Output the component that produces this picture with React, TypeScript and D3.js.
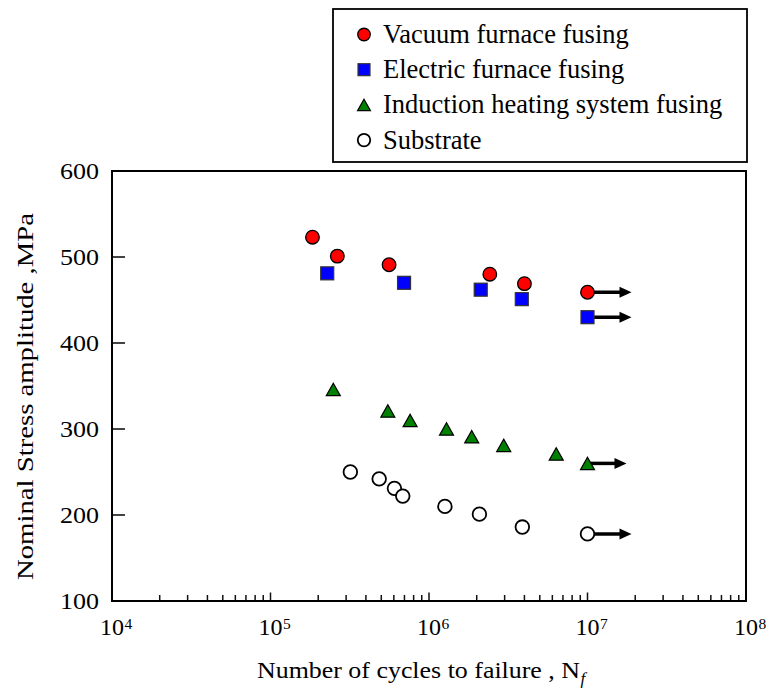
import React from "react";
import * as d3 from "d3";

// ---- Data ----
const vacuumN = [1.84e5, 2.64e5, 5.6e5, 2.42e6, 4.0e6, 1.0e7];
const vacuumS = [523, 501, 491, 480, 469, 459];
const vacuumRunout = [false, false, false, false, false, true];

const electricN = [2.28e5, 6.96e5, 2.12e6, 3.85e6, 1.0e7];
const electricS = [481, 470, 462, 451, 430];
const electricRunout = [false, false, false, false, true];

const inductionN = [2.49e5, 5.5e5, 7.6e5, 1.29e6, 1.86e6, 2.96e6, 6.35e6, 1.0e7];
const inductionS = [346, 321, 310, 300, 291, 281, 271, 260];
const inductionRunout = [false, false, false, false, false, false, false, true];

const substrateN = [3.19e5, 4.85e5, 6.05e5, 6.83e5, 1.26e6, 2.08e6, 3.88e6, 1.0e7];
const substrateS = [250, 242, 231, 222, 210, 201, 186, 178];
const substrateRunout = [false, false, false, false, false, false, false, true];

const seriesNames = [
  "Vacuum furnace fusing",
  "Electric furnace fusing",
  "Induction heating system fusing",
  "Substrate",
];
const xDecades = [4, 5, 6, 7, 8];
const yTicks = [100, 200, 300, 400, 500, 600];

// ---- Layout ----
const W = 773;
const H = 697;
const L = 112, R = 746, T = 171, B = 601;
const FONT = "'Liberation Serif', 'Times New Roman', serif";

type Shape = "circle" | "square" | "triangle";

function Marker({ shape, x, y, fill, s = 1 }: { shape: Shape; x: number; y: number; fill: string; s?: number }) {
  const stroke = "#000";
  if (shape === "circle") {
    return <circle cx={x} cy={y} r={6.8 * s} fill={fill} stroke={stroke} strokeWidth={fill === "#fff" ? 1.8 : 1.3} />;
  }
  if (shape === "square") {
    const h = 6.5 * s;
    return <rect x={x - h} y={y - h} width={2 * h} height={2 * h} fill={fill} stroke="#333" strokeWidth={1.2} />;
  }
  const hw = 7 * s, hh = 6.2 * s;
  return (
    <path
      d={`M${x},${y - hh}L${x + hw},${y + hh}L${x - hw},${y + hh}Z`}
      fill={fill}
      stroke={stroke}
      strokeWidth={1.2}
      strokeLinejoin="miter"
    />
  );
}

export default function App() {
  const x = d3.scaleLog().domain([1e4, 1e8]).range([L, R]);
  const y = d3.scaleLinear().domain([100, 600]).range([B, T]);

  const series = [
    { name: seriesNames[0], N: vacuumN, S: vacuumS, run: vacuumRunout, shape: "circle" as Shape, fill: "#ff0000", arrow: 44 },
    { name: seriesNames[1], N: electricN, S: electricS, run: electricRunout, shape: "square" as Shape, fill: "#0000ff", arrow: 44 },
    { name: seriesNames[2], N: inductionN, S: inductionS, run: inductionRunout, shape: "triangle" as Shape, fill: "#008000", arrow: 39 },
    { name: seriesNames[3], N: substrateN, S: substrateS, run: substrateRunout, shape: "circle" as Shape, fill: "#fff", arrow: 44 },
  ];

  const minorTicks: number[] = [];
  for (let d = 4; d < 8; d++) {
    for (let k = 2; k <= 9; k++) minorTicks.push(k * Math.pow(10, d));
  }

  return (
    <svg
      width={W}
      height={H}
      style={{ position: "absolute", left: 0, top: 0, background: "#fff" }}
      fontFamily={FONT}
    >
      <rect x={0} y={0} width={W} height={H} fill="#fff" />

      {/* y ticks */}
      {yTicks.filter((t) => t > 100 && t < 600).map((t) => (
        <line key={"yt" + t} x1={L} x2={L + 13} y1={y(t)} y2={y(t)} stroke="#444" strokeWidth={2} />
      ))}
      {/* x minor ticks */}
      {minorTicks.map((t, i) => (
        <line key={"xm" + i} x1={x(t)} x2={x(t)} y1={B} y2={B - 6} stroke="#111" strokeWidth={1.5} />
      ))}
      {xDecades.filter((d) => d > 4 && d < 8).map((d) => (
        <line key={"xM" + d} x1={x(Math.pow(10, d))} x2={x(Math.pow(10, d))} y1={B} y2={B - 8.5} stroke="#111" strokeWidth={1.5} />
      ))}

      {/* frame */}
      <rect x={L} y={T} width={R - L} height={B - T} fill="none" stroke="#000" strokeWidth={2} />

      {/* y tick labels */}
      {yTicks.map((t) => (
        <text
          key={"yl" + t}
          x={99}
          y={y(t) + 7.5}
          textAnchor="end"
          fontSize={23}
          textLength={39}
          lengthAdjust="spacingAndGlyphs"
          fill="#000"
        >
          {t}
        </text>
      ))}

      {/* x tick labels */}
      {xDecades.map((d) => {
        const px = x(Math.pow(10, d));
        return (
          <g key={"xl" + d}>
            <text x={px} y={635} textAnchor="middle" fontSize={24} fill="#000">10</text>
            <text x={px + 12.5} y={629} fontSize={15.5} fill="#000">{d}</text>
          </g>
        );
      })}

      {/* axis titles */}
      <text x={257} y={678} fontSize={23} textLength={323} lengthAdjust="spacingAndGlyphs" fill="#000">
        Number of cycles to failure , N
      </text>
      <text x={580.5} y={684} fontSize={17} fontStyle="italic" fill="#000">f</text>

      <text
        transform={`translate(33,396.5) rotate(-90)`}
        textAnchor="middle"
        fontSize={23.5}
        textLength={367}
        lengthAdjust="spacingAndGlyphs"
        fill="#000"
      >
        Nominal Stress amplitude  ,MPa
      </text>

      {/* runout arrows */}
      {series.map((s, si) =>
        s.N.map((n, i) => {
          if (!s.run[i]) return null;
          const px = x(n), py = y(s.S[i]);
          const xe = px + s.arrow;
          return (
            <g key={"ar" + si + "-" + i}>
              <line x1={px} x2={xe - 10} y1={py} y2={py} stroke="#000" strokeWidth={3.5} />
              <path d={`M${xe - 12},${py - 5.5}L${xe},${py}L${xe - 12},${py + 5.5}Z`} fill="#000" />
            </g>
          );
        })
      )}

      {/* markers */}
      {series.map((s, si) =>
        s.N.map((n, i) => (
          <Marker key={"m" + si + "-" + i} shape={s.shape} x={x(n)} y={y(s.S[i])} fill={s.fill} />
        ))
      )}

      {/* legend */}
      <rect x={333} y={9} width={414} height={153} fill="#fff" stroke="#000" strokeWidth={1.8} />
      {series.map((s, i) => {
        const cy = 34.5 + i * 35.2;
        return (
          <g key={"lg" + i}>
            <Marker shape={s.shape} x={364} y={cy} fill={s.fill} s={0.92} />
            <text x={383} y={cy + 8.5} fontSize={26.5} fill="#000">{s.name}</text>
          </g>
        );
      })}
    </svg>
  );
}
